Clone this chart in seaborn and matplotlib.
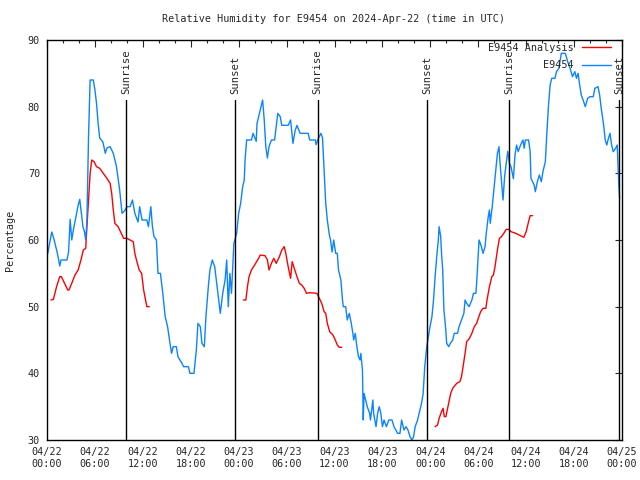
import numpy as np
import pandas as pd
import matplotlib
matplotlib.use("Agg")
import matplotlib.pyplot as plt
import matplotlib.dates as mdates
from matplotlib.lines import Line2D
import seaborn as sns

# ---------------- data (hours after 2024-04-22 00:00 UTC) ----------------
obs_hours = [0.1, 0.4, 0.6, 0.9, 1.3, 1.6, 1.75, 2.5, 2.7, 2.9, 3.1, 3.3, 3.7, 3.9, 4.1, 4.3, 4.5, 4.7, 4.85, 5.0,
             5.2, 5.4, 5.8, 6.0, 6.2, 6.4, 6.6, 7.0, 7.3, 7.5, 7.9, 8.3, 8.7, 9.1, 9.4, 9.8, 10.0, 10.4, 10.7, 11.0,
             11.4, 11.6, 11.9, 12.5, 12.7, 13.0, 13.2, 13.4, 13.7, 13.9, 14.2, 14.5, 14.8, 15.1, 15.4, 15.6, 15.8,
             16.2, 16.4, 16.9, 17.1, 17.7, 17.9, 18.4, 18.7, 18.9, 19.2, 19.4, 19.7, 19.9, 20.2, 20.4, 20.7, 21.0,
             21.3, 21.6, 21.7, 22.0, 22.3, 22.5, 22.7, 22.9, 23.1, 23.4, 23.75, 24.0, 24.25, 24.5, 24.7, 24.8, 25.0,
             25.6, 25.8, 26.2, 26.3, 26.7, 27.0, 27.2, 27.4, 27.6, 27.8, 28.1, 28.5, 28.9, 29.2, 29.4, 30.2, 30.5,
             30.8, 31.05, 31.3, 31.7, 32.7, 32.9, 33.6, 33.7, 34.0, 34.3, 34.5, 34.7, 34.9, 35.1, 35.35, 35.5, 35.7,
             35.9, 36.15, 36.35, 36.5, 36.6, 36.8, 37.0, 37.1, 37.4, 37.6, 37.85, 38.1, 38.3, 38.4, 38.6, 38.8, 39.0,
             39.2, 39.3, 39.5, 39.6, 39.7, 39.9, 40.1, 40.4, 40.5, 40.8, 40.9, 41.2, 41.4, 41.6, 41.8, 42.0, 42.2,
             42.5, 42.8, 43.2, 43.45, 43.9, 44.2, 44.4, 44.7, 44.95, 45.2, 45.45, 45.7, 45.9, 46.1, 46.4, 46.6, 46.9,
             47.1, 47.3, 47.55, 47.75, 47.96, 48.2, 48.4, 48.6, 48.8, 49.0, 49.1, 49.3, 49.4, 49.55, 49.7, 49.9,
             50.05, 50.3, 50.5, 50.8, 51.0, 51.4, 51.6, 51.9, 52.2, 52.35, 52.55, 52.85, 53.2, 53.4, 53.7, 53.8, 54.0,
             54.1, 54.4, 54.6, 54.85, 55.0, 55.25, 55.4, 55.5, 55.75, 55.95, 56.2, 56.4, 56.6, 56.7, 56.9, 57.1,
             57.3, 57.5, 57.7, 57.9, 58.1, 58.4, 58.6, 58.8, 59.0, 59.3, 59.6, 59.75, 59.9, 60.3, 60.5, 60.6, 60.8,
             61.0, 61.15, 61.4, 61.65, 61.9, 62.1, 62.4, 62.6, 62.8, 63.0, 63.2, 63.6, 63.8, 64.1, 64.4, 64.9, 65.2,
             65.5, 65.8, 66.1, 66.3, 66.5, 66.7, 66.9, 67.2, 67.4, 67.7, 68.0, 68.4, 68.6, 69.0, 69.2, 69.4, 69.7,
             69.9, 70.1, 70.3, 70.5, 70.7, 70.9, 71.2, 71.4, 71.6, 71.7]
obs_rh = [58.0, 60.0, 61.2, 60.0, 58.0, 56.1, 57.0, 57.0, 58.2, 63.1, 60.0, 61.5, 64.0, 65.2, 66.1, 64.0, 62.0, 61.2, 60.0, 63.0,
          75.5, 84.0, 84.0, 82.5, 80.5, 77.5, 75.3, 74.7, 73.0, 73.8, 74.0, 73.0, 71.0, 67.5, 64.0, 64.5, 65.0, 65.0, 66.0, 64.0,
          62.7, 65.0, 63.0, 63.0, 62.0, 65.0, 62.0, 60.5, 60.0, 55.0, 55.0, 52.0, 48.5, 47.0, 44.5, 43.0, 44.0,
          44.0, 42.5, 41.5, 41.0, 41.0, 40.0, 40.0, 43.5, 47.5, 47.0, 44.5, 44.0, 48.5, 53.0, 55.5, 57.0, 56.0,
          53.0, 50.0, 49.0, 52.0, 54.0, 57.0, 50.0, 55.0, 52.0, 59.5, 61.0, 64.0, 65.5, 68.0, 69.0, 72.0, 75.0,
          75.0, 76.0, 74.8, 77.5, 79.5, 81.0, 78.0, 74.0, 72.3, 74.0, 75.0, 75.0, 79.0, 78.5, 77.2, 77.2, 78.0,
          74.5, 76.3, 77.2, 76.0, 76.0, 75.0, 75.0, 74.3, 75.3, 76.0, 75.3, 70.5, 65.5, 63.0, 60.8, 60.0, 58.2,
          60.0, 58.0, 58.0, 55.5, 55.0, 54.0, 51.0, 50.0, 50.0, 48.0, 49.0, 47.5, 46.0, 45.0, 46.0, 44.0, 42.5,
          42.0, 43.0, 40.5, 33.0, 37.0, 36.0, 35.0, 34.0, 33.0, 36.0, 34.0, 32.0, 34.0, 35.0, 34.0, 32.0, 33.0,
          32.0, 33.0, 33.0, 32.0, 31.0, 31.0, 33.0, 31.5, 32.0, 31.5, 30.5, 30.0, 30.5, 32.0, 33.0, 34.0, 35.5,
          37.0, 41.0, 44.0, 45.5, 47.0, 48.5, 51.0, 54.5, 57.5, 60.0, 62.0, 60.5, 58.0, 55.5, 49.5, 47.0,
          44.5, 44.0, 44.5, 45.0, 46.0, 46.0, 47.0, 48.0, 49.0, 51.0, 50.5, 50.0, 51.0, 52.0, 52.0, 53.5, 58.0,
          60.0, 59.0, 58.0, 59.0, 61.0, 63.5, 64.5, 62.5, 65.0, 67.5, 70.5, 73.0, 74.0, 72.0, 69.0, 66.0,
          69.5, 71.5, 73.3, 71.5, 71.0, 69.2, 72.75, 74.25, 73.25, 74.25, 75.0, 73.75, 75.0, 75.0, 73.25, 69.25, 68.75,
          68.25, 67.25, 68.75, 69.75, 68.75, 70.25, 71.75, 76.25, 80.25, 83.25, 84.25, 84.25, 85.25, 85.75, 88.0, 88.0, 86.75,
          85.75, 84.5, 85.25, 84.25, 85.0, 83.25, 81.75, 80.75, 80.0, 81.25, 81.5, 81.5, 82.75, 83.0, 81.75, 79.75, 77.25,
          75.0, 74.25, 75.25, 76.0, 74.25, 73.25, 73.75, 74.25, 68.25, 66.25]

ana_hours_1 = [0.5, 0.8, 1.2, 1.6, 1.8, 2.2, 2.6, 2.75, 3.1, 3.5, 3.9, 4.25, 4.55, 4.85, 5.0, 5.2, 5.4, 5.6, 5.9, 6.2,
               6.6, 7.05, 7.5, 7.9, 8.1, 8.3, 8.5, 8.9, 9.3, 9.6, 10.0, 10.4, 10.8, 11.0, 11.2, 11.55, 11.85, 12.1,
               12.5, 12.8]
ana_rh_1 = [51.0, 51.1, 53.0, 54.5, 54.5, 53.5, 52.5, 52.5, 53.5, 54.75, 55.5, 57.0, 58.5, 58.75, 62.0, 66.0, 70.0, 72.0,
            71.75, 71.0, 70.75, 70.0, 69.25, 68.5, 67.0, 64.5, 62.5, 62.0, 61.0, 60.25, 60.25, 60.0, 59.75, 58.0, 57.0,
            55.5, 55.0, 52.5, 50.0, 50.0]
ana_hours_2 = [24.6, 24.9, 25.1, 25.3, 25.6, 26.0, 26.5, 26.7, 27.3, 27.6, 27.8, 28.1, 28.4, 28.7, 29.1, 29.4, 29.7,
               29.9, 30.2, 30.5, 30.7, 30.9, 31.3, 31.6, 31.9, 32.2, 32.5, 32.9, 33.8, 34.1, 34.4, 34.7, 34.9, 35.1,
               35.4, 35.8, 36.1, 36.35, 36.6, 36.9]
ana_rh_2 = [51.0, 51.0, 53.0, 54.5, 55.5, 56.25, 57.25, 57.75, 57.65, 57.0, 55.5, 56.5, 57.25, 56.5, 57.5, 58.5, 59.0,
            58.0, 56.0, 54.25, 56.75, 56.0, 54.5, 53.5, 53.25, 52.75, 52.0, 52.1, 52.0, 51.25, 50.5, 49.25, 49.0,
            47.5, 46.25, 45.75, 45.0, 44.25, 43.9, 43.9]
ana_hours_3 = [48.6, 48.9, 49.1, 49.4, 49.6, 49.75, 49.95, 50.25, 50.55, 50.8, 51.3, 51.7, 51.9, 52.1, 52.35, 52.55,
               52.9, 53.2, 53.5, 53.8, 54.0, 54.3, 54.6, 54.95, 55.1, 55.4, 55.7, 55.9, 56.1, 56.4, 56.65, 56.9,
               57.2, 57.5, 57.8, 58.1, 58.7, 59.7, 60.0, 60.3, 60.5, 60.8]
ana_rh_3 = [32.0, 32.25, 33.25, 34.25, 34.75, 33.5, 33.5, 35.25, 37.0, 37.75, 38.5, 38.75, 39.5, 41.0, 43.0, 44.75,
            45.25, 46.0, 47.0, 47.5, 48.25, 49.25, 49.75, 49.75, 51.0, 53.0, 54.5, 54.75, 56.0, 58.5, 60.25, 60.5,
            61.0, 61.6, 61.6, 61.25, 61.0, 60.4, 61.25, 62.75, 63.65, 63.65]

sun_hours = [9.95, 23.55, 33.9, 47.6, 57.9, 71.65]
sun_labels = ["Sunrise", "Sunset", "Sunrise", "Sunset", "Sunrise", "Sunset"]

START = pd.Timestamp("2024-04-22 00:00")

def to_time(hours):
    return START + pd.to_timedelta(np.asarray(hours), unit="h")

obs_df = pd.DataFrame({"time": to_time(obs_hours), "rh": obs_rh})
ana_df = pd.concat([
    pd.DataFrame({"time": to_time(h), "rh": v, "run": i})
    for i, (h, v) in enumerate([(ana_hours_1, ana_rh_1), (ana_hours_2, ana_rh_2), (ana_hours_3, ana_rh_3)])
], ignore_index=True)

# ---------------- plot ----------------
sns.set_style("white")
plt.rcParams["font.family"] = ["DejaVu Sans Mono"]
plt.rcParams["font.size"] = 7.3

RED = "#ff0000"
BLUE = "#0a84ff"

fig = plt.figure(figsize=(6.4, 4.8), dpi=100)
ax = fig.add_axes([47 / 640, 40 / 480, 575 / 640, 400 / 480])

sns.lineplot(data=ana_df, x="time", y="rh", units="run", estimator=None,
             color=RED, linewidth=1.0, ax=ax, legend=False)
sns.lineplot(data=obs_df, x="time", y="rh", color=BLUE, linewidth=1.0, ax=ax, legend=False)

for h, lab in zip(sun_hours, sun_labels):
    t = to_time([h])[0]
    ax.plot([t, t], [30, 81], color="black", linewidth=1.0)
    ax.text(t, 81.9, lab, rotation=90, ha="center", va="bottom", fontsize=7.6)

ax.set_xlim(START, START + pd.Timedelta(hours=72))
ax.set_ylim(30, 90)
ax.set_yticks(np.arange(30, 91, 10))
ax.xaxis.set_major_locator(mdates.HourLocator(byhour=[0, 6, 12, 18]))
ax.xaxis.set_minor_locator(mdates.HourLocator(byhour=range(0, 24, 2)))
ax.xaxis.set_major_formatter(mdates.DateFormatter("%m/%d\n%H:%M"))
ax.tick_params(axis="both", which="major", direction="in", length=5, width=0.8,
               top=True, right=True, pad=5, labelsize=7.3)
ax.tick_params(axis="x", which="minor", direction="in", length=2.5, width=0.8, top=True)
for s in ax.spines.values():
    s.set_color("black")
    s.set_linewidth(1.0)

ax.set_xlabel("")
ax.set_ylabel("Percentage", fontsize=7.3, labelpad=9)
fig.text(334 / 640, 1 - 19 / 480, "Relative Humidity for E9454 on 2024-Apr-22 (time in UTC)",
         ha="center", va="center", fontsize=7.3)

handles = [Line2D([], [], color=RED, linewidth=1.0), Line2D([], [], color=BLUE, linewidth=1.0)]
ax.legend(handles, ["E9454 Analysis", "E9454"], loc="upper right", frameon=False,
          markerfirst=False, handlelength=2.9, handletextpad=0.75, labelspacing=0.7,
          borderaxespad=0.0, borderpad=0.3, bbox_to_anchor=(1 - 8 / 575, 1.0), fontsize=7.3)

fig.savefig("out.png", dpi=100)
